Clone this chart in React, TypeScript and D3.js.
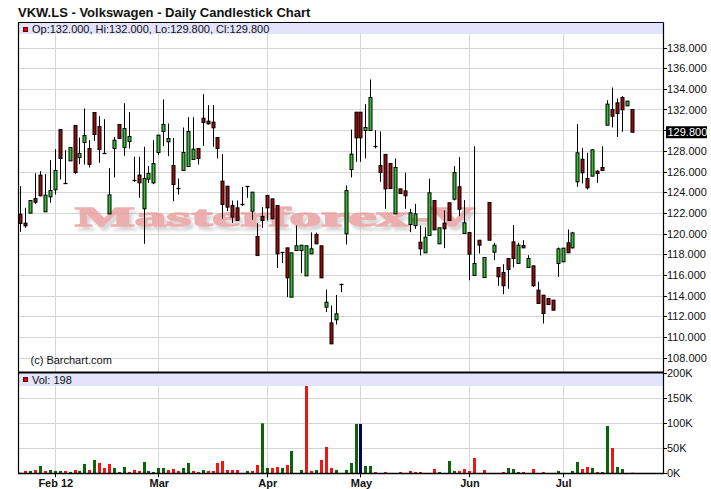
import React from "react";
import * as d3 from "d3";

const opens = [121.87,121.0,121.97,123.39,125.65,122.1,123.55,124.23,130.06,124.84,127.03,130.45,127.35,128.81,128.23,131.71,130.35,127.81,121.9,128.23,130.55,128.32,128.9,125.16,125.65,122.39,125.26,124.9,127.84,129.87,128.87,126.58,124.45,126.1,126.48,127.16,128.23,131.16,130.87,130.77,129.29,125.06,124.58,122.71,122.48,122.81,124.58,122.16,119.71,121.65,123.68,123.35,122.71,118.19,118.61,113.84,118.35,118.35,115.9,118.03,119.9,118.81,112.87,111.35,111.65,115.13,119.97,126.19,131.74,131.74,129.97,129.97,128.45,126.58,127.65,126.77,121.9,124.32,124.13,120.87,120.77,119.16,118.13,119.81,123.19,119.0,121.0,122.97,123.32,124.52,120.0,120.1,115.94,119.35,115.74,123.0,118.19,116.71,116.23,117.58,119.19,117.1,118.84,116.71,116.87,114.52,114.03,113.71,113.55,117.1,117.26,119.1,118.61,125.0,127.19,125.32,125.55,126.03,126.39,130.48,132.0,132.65,133.16,132.35,132.0];
const highs = [124.58,122.48,123.2,125.84,126.03,125.74,127.1,128.16,130.06,128.06,128.32,130.45,129.29,132.1,129.03,131.71,131.35,131.06,126.32,129.35,130.55,132.61,131.74,127.42,127.42,128.39,126.52,129.03,129.52,132.97,130.65,129.23,125.32,130.26,131.26,131.26,128.23,133.48,132.42,132.42,129.29,127.68,124.58,123.19,123.2,124.52,124.58,124.0,121.0,122.55,123.74,123.35,122.71,118.19,118.61,118.13,120.77,118.87,118.81,120.1,120.1,118.81,114.58,113.03,114.06,115.13,124.65,130.06,131.74,131.74,132.52,134.9,130.0,129.87,127.65,126.77,127.26,124.32,125.87,122.39,122.87,120.77,120.61,125.29,123.19,120.55,122.23,122.97,126.52,127.39,123.23,120.1,128.45,119.35,117.68,123.0,119.1,116.71,117.03,117.58,120.81,119.1,119.35,117.9,116.87,115.32,114.03,113.71,113.55,118.65,118.58,120.39,120.16,130.58,128.29,127.81,128.16,126.13,128.45,132.9,134.13,133.06,133.29,132.81,132.0];
const lows = [120.16,120.55,121.95,122.87,123.6,122.1,122.97,123.77,125.23,124.84,127.03,125.74,126.71,126.68,126.39,128.97,126.84,127.8,121.9,125.42,129.19,127.52,128.23,125.0,123.45,119.0,124.9,124.77,127.58,128.45,127.48,123.13,123.77,126.1,126.48,127.16,126.68,128.48,130.55,128.39,127.26,121.42,122.16,121.03,121.26,122.65,123.45,121.32,117.81,120.55,121.26,121.4,116.65,117.13,113.84,113.84,118.35,116.16,115.9,118.03,119.0,115.71,112.39,109.32,111.19,114.32,118.94,125.42,126.94,126.94,127.26,129.97,128.23,125.0,122.39,124.35,121.9,123.87,122.39,120.13,120.45,117.87,118.13,119.81,120.35,119.0,118.58,121.26,123.2,121.68,119.97,115.48,115.94,118.06,115.74,119.35,117.42,114.94,114.13,114.65,116.71,117.1,118.61,116.71,114.84,113.23,111.29,113.13,112.58,115.81,117.26,118.13,118.55,124.52,124.84,124.26,125.55,124.9,126.1,130.48,130.26,129.35,129.84,132.35,129.8];
const closes = [120.97,120.74,123.19,123.03,123.65,123.71,124.16,126.1,127.26,124.84,128.32,125.9,127.74,129.48,126.68,129.58,128.13,127.81,123.74,129.03,129.19,130.16,129.39,125.16,124.9,125.32,125.81,126.77,129.52,130.55,129.19,124.74,124.45,127.84,129.87,128.16,127.26,130.74,130.61,130.23,128.23,122.81,122.55,121.58,121.26,122.81,124.58,124.0,117.87,121.26,122.48,121.42,118.03,118.19,115.71,118.13,118.81,118.87,118.81,118.52,119.0,115.71,113.35,109.32,112.23,115.13,124.16,127.68,129.26,129.26,130.26,133.16,128.45,125.9,124.32,124.35,126.39,123.87,123.65,122.0,121.9,118.52,119.65,123.94,120.35,120.55,120.45,121.26,125.9,122.35,121.03,118.0,117.1,118.87,117.68,119.35,118.87,115.81,114.94,116.52,117.58,118.87,118.61,117.58,114.94,113.23,112.26,113.13,112.58,118.52,118.58,118.13,120.06,127.81,125.87,124.42,128.1,125.81,126.1,132.52,131.35,131.61,131.97,132.81,129.8];
// volume in thousands of shares
const volumes = [1,4.7,4.7,6.7,14.7,4.7,6.7,4.7,4.7,4.7,2.7,6.7,4.7,18.7,6.7,26.7,20.7,10.7,18.7,10.7,2.7,12.7,2.7,6.7,4.7,22.7,4.7,2.7,10.7,10.7,6.7,8.7,4.7,10.7,20.7,4.7,2.7,6.7,4.7,4.7,20.7,24.7,6.7,6.7,6.7,0,4.7,4.7,16.7,100,10.7,10.7,12.7,10.7,16.7,44.7,0,6.7,174.7,4.7,6.7,26.7,52.7,10.7,6.7,0,6.7,20.7,98.7,98.7,14.7,14.7,2.7,0,2.7,0,0,2.7,0,4.7,2.7,2.7,0,0,8.7,2.7,0,24.7,4.7,4.7,8.7,4.7,30.7,0,6.7,0,0,0,2.7,10.7,8.7,2.7,2.7,0,8.7,0,2.7,0,0,4.7,0,0,4.7,22.7,8.7,12.7,10.7,2.7,2.7,94.7,50.7,12.7,8.7,0,0.198];
// close versus previous close: 1 up, -1 down, 0 unchanged
const volDir = [-1,-1,1,-1,1,-1,1,1,1,-1,1,-1,1,1,-1,1,-1,-1,-1,1,1,1,-1,-1,-1,1,1,1,1,1,-1,-1,-1,1,1,-1,-1,1,-1,-1,-1,-1,-1,-1,-1,1,1,-1,-1,1,1,-1,-1,1,-1,1,1,1,-1,-1,1,-1,-1,-1,1,1,1,1,1,0,1,1,-1,-1,-1,-1,1,-1,-1,-1,-1,-1,1,1,-1,1,-1,1,1,-1,-1,-1,-1,1,-1,1,-1,-1,-1,1,1,1,-1,-1,-1,-1,-1,1,-1,1,1,-1,1,1,-1,-1,1,-1,1,1,-1,1,1,1,-1];

const xTickLabels = ["Feb 12", "Mar", "Apr", "May", "Jun", "Jul"];
const xTickIndex = [7, 28, 50, 69, 91, 110];
const priceTicks = [108, 110, 112, 114, 116, 118, 120, 122, 124, 126, 128, 130, 132, 134, 136, 138, 140];
const volTicks = [0, 50, 100, 150, 200];
const volTickLabels = ["0K", "50K", "100K", "150K", "200K"];
const lastPrice = 129.8;
const titleText = "VKW.LS - Volkswagen - Daily Candlestick Chart";
const legendText = "Op:132.000, Hi:132.000, Lo:129.800, Cl:129.800";
const volLegendText = "Vol: 198";
const watermarkText = "Masterforex-V";
const creditText = "(c) Barchart.com";

const FONT = "'Liberation Sans', Arial, sans-serif";

export default function App() {
  const W = 711, H = 489;
  const L = 18, R = 663;
  const pTop = 22.5, pStrip = 34, pBot = 372;
  const vStripTop = 373.5, vStripBot = 386, vBot = 473.3;

  const x = d3.scaleLinear().domain([0, opens.length - 1]).range([20.3, 631.6]);
  const yP = d3.scaleLinear().domain([108, 138]).range([357.5, 47.5]);
  const yV = d3.scaleLinear().domain([0, 200]).range([vBot, 373.3]);

  const gridCol = "#d6d6d6";
  const upFill = "#2fbf2f";
  const downFill = "#9a0a0a";
  const volUp = "#0b640b";
  const volDown = "#ee1515";
  const volSame = "#000066";

  const px = (v: number) => Math.round(v) + 0.5;

  const candles = opens.map((o, i) => {
    const c = Math.round(x(i));
    const yo = yP(o), yc = yP(closes[i]), yh = yP(highs[i]), yl = yP(lows[i]);
    const up = closes[i] >= o;
    const top = Math.min(yo, yc), bot = Math.max(yo, yc);
    const doji = bot - top < 1.5;
    return (
      <g key={"c" + i}>
        <line x1={c + 0.5} x2={c + 0.5} y1={yh} y2={yl} stroke="#000" strokeWidth={1} />
        {doji ? (
          <line x1={c - 1.5} x2={c + 2.5} y1={px(top)} y2={px(top)} stroke="#000" strokeWidth={1.3} />
        ) : (
          <rect x={c - 1} y={top} width={3} height={bot - top} fill={up ? upFill : downFill} stroke="#000" strokeWidth={1} />
        )}
      </g>
    );
  });

  const volBars = volumes.map((v, i) => {
    if (v <= 0) return null;
    const c = Math.round(x(i));
    const y0 = yV(v);
    const h = Math.max(vBot - y0, 0.6);
    const col = volDir[i] > 0 ? volUp : volDir[i] < 0 ? volDown : volSame;
    return <rect key={"v" + i} x={c - 1} y={vBot - h} width={3} height={h} fill={col} />;
  });

  const lastY = yP(lastPrice);

  return (
    <svg width={W} height={H} style={{ position: "absolute", left: 0, top: 0, background: "#fff" }} fontFamily={FONT}>
      <defs>
        <filter id="wmShadow" x="-5%" y="-30%" width="115%" height="180%">
          <feGaussianBlur in="SourceAlpha" stdDeviation="1.6" />
          <feOffset dx="3" dy="4" result="blur" />
          <feFlood floodColor="#b8b8b8" floodOpacity="0.7" />
          <feComposite in2="blur" operator="in" />
          <feMerge>
            <feMergeNode />
            <feMergeNode in="SourceGraphic" />
          </feMerge>
        </filter>
      </defs>
      <rect x={0} y={0} width={W} height={H} fill="#fff" />
      {/* title */}
      <text x={18} y={17} fontSize={13} fontWeight="bold" fill="#111">{titleText}</text>

      {/* price grid */}
      {priceTicks.map((t) => {
        const y = yP(t);
        if (y < pStrip) return null;
        return <line key={"pg" + t} x1={L} x2={R} y1={px(y)} y2={px(y)} stroke={gridCol} strokeWidth={1} />;
      })}
      {xTickIndex.map((ti, k) => (
        <line key={"vg" + k} x1={px(x(ti))} x2={px(x(ti))} y1={pStrip} y2={pBot} stroke={gridCol} strokeWidth={1} />
      ))}
      {/* volume grid */}
      {volTicks.slice(1, 4).map((t) => (
        <line key={"vgh" + t} x1={L} x2={R} y1={px(yV(t))} y2={px(yV(t))} stroke={gridCol} strokeWidth={1} />
      ))}
      {xTickIndex.map((ti, k) => (
        <line key={"vvg" + k} x1={px(x(ti))} x2={px(x(ti))} y1={vStripBot} y2={vBot} stroke={gridCol} strokeWidth={1} />
      ))}

      {/* watermark */}
      <g opacity={0.8} filter="url(#wmShadow)">
        <text x={75} y={226} textLength={400} lengthAdjust="spacingAndGlyphs"
          fontFamily="'Liberation Serif', 'Times New Roman', serif" fontWeight="bold" fontSize={28}
          fill="#e89a9a" stroke="#e89a9a" strokeWidth={1.4}>{watermarkText}</text>
      </g>

      {/* legend strips */}
      <rect x={L} y={pTop} width={R - L} height={pStrip - pTop} fill="#e3e3fb" />
      <rect x={23.5} y={27.5} width={4} height={4} fill="#e00000" stroke="#600" strokeWidth={1} />
      <text x={32} y={33} fontSize={11} fill="#111">{legendText}</text>

      <rect x={L} y={vStripTop} width={R - L} height={vStripBot - vStripTop} fill="#e3e3fb" />
      <rect x={23.5} y={377.5} width={4} height={4} fill="#e00000" stroke="#600" strokeWidth={1} />
      <text x={32} y={384} fontSize={11} fill="#111">{volLegendText}</text>

      <text x={30.5} y={363.5} fontSize={11} fill="#111">{creditText}</text>

      {/* candles */}
      {candles}
      {/* volume */}
      {volBars}

      {/* frames */}
      <line x1={L} x2={R + 0.5} y1={pTop} y2={pTop} stroke="#000" strokeWidth={1} />
      <line x1={L + 0.5} x2={L + 0.5} y1={pTop} y2={vBot} stroke="#000" strokeWidth={1.2} />
      <line x1={R + 0.5} x2={R + 0.5} y1={pTop} y2={vBot + 0.5} stroke="#000" strokeWidth={1.2} />
      <line x1={L} x2={R + 1} y1={372.5} y2={372.5} stroke="#000" strokeWidth={2} />
      <line x1={L} x2={R + 1} y1={vBot + 0.2} y2={vBot + 0.2} stroke="#000" strokeWidth={1.5} />

      {/* price axis */}
      {priceTicks.map((t) => {
        const y = yP(t);
        if (y < pStrip) return null;
        const hidden = Math.abs(y - lastY) < 9;
        return (
          <g key={"pt" + t}>
            <line x1={R} x2={R + 4} y1={px(y)} y2={px(y)} stroke="#000" strokeWidth={1} />
            {!hidden && (
              <text x={667} y={y + 4} fontSize={11} fill="#111">{t.toFixed(3)}</text>
            )}
          </g>
        );
      })}
      <rect x={666} y={lastY - 6} width={41} height={12} fill="#000" />
      <text x={667.5} y={lastY + 4} fontSize={11} fill="#fff">{lastPrice.toFixed(3)}</text>

      {/* volume axis */}
      {volTicks.map((t, k) => (
        <g key={"vt" + t}>
          <line x1={R} x2={R + 4} y1={px(yV(t))} y2={px(yV(t))} stroke="#000" strokeWidth={1} />
          <text x={667} y={yV(t) + 4} fontSize={11} fill="#111">{volTickLabels[k]}</text>
        </g>
      ))}

      {/* x axis */}
      {xTickIndex.map((ti, k) => (
        <g key={"xt" + k}>
          <line x1={px(x(ti))} x2={px(x(ti))} y1={vBot} y2={vBot + 4} stroke="#000" strokeWidth={1} />
          <text x={x(ti) + 1} y={487} fontSize={11} fontWeight="bold" textAnchor="middle" fill="#111">{xTickLabels[k]}</text>
        </g>
      ))}
    </svg>
  );
}
